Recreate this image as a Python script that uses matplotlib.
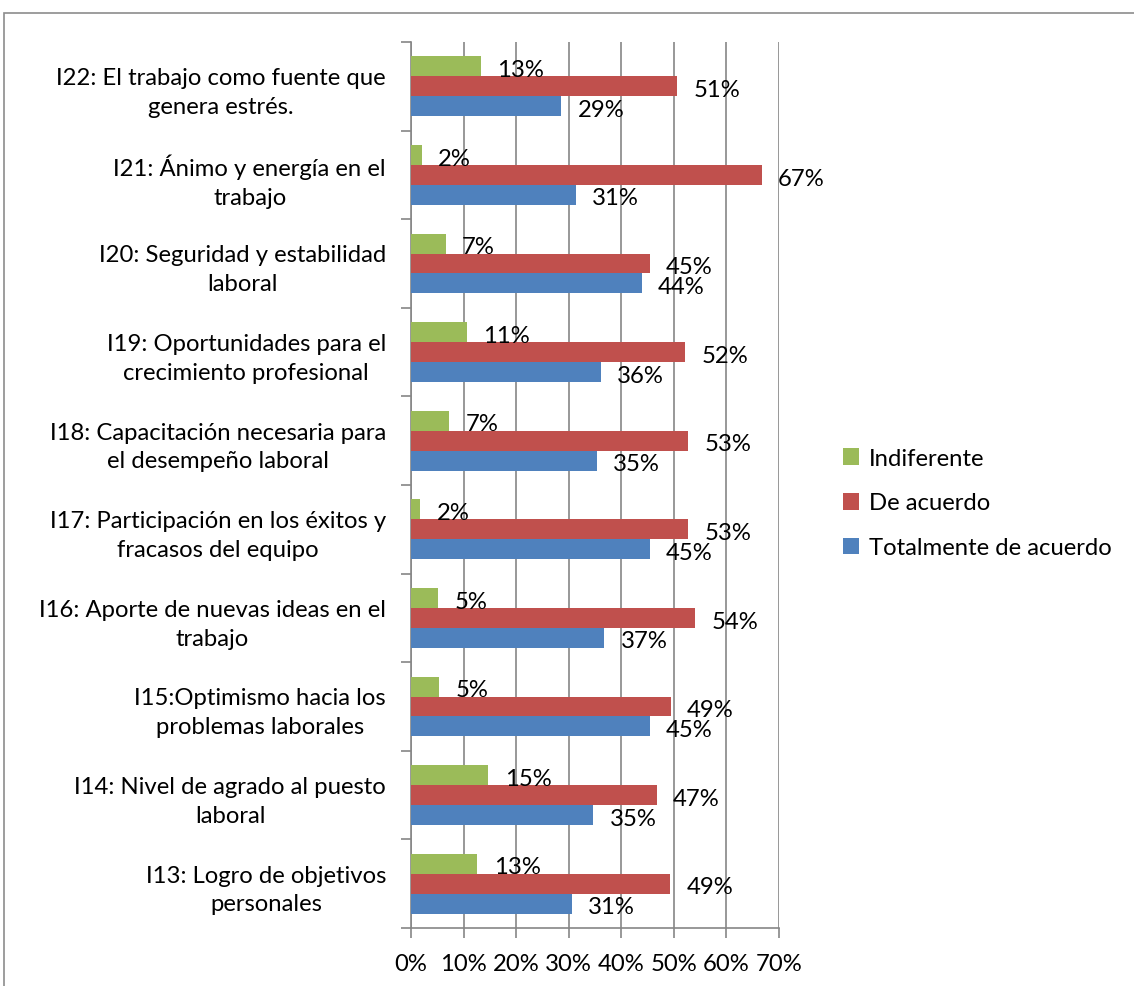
import matplotlib
matplotlib.use("Agg")
import matplotlib.pyplot as plt
from matplotlib.patches import Rectangle
from matplotlib.transforms import ScaledTranslation
import numpy as np

categories = [
    "I13: Logro de objetivos\npersonales",
    "I14: Nivel de agrado al puesto\nlaboral",
    "I15:Optimismo hacia los\nproblemas laborales",
    "I16: Aporte de nuevas ideas en el\ntrabajo",
    "I17: Participación en los éxitos y\nfracasos del equipo",
    "I18: Capacitación necesaria para\nel desempeño laboral",
    "I19: Oportunidades para el\ncrecimiento profesional",
    "I20: Seguridad y estabilidad\nlaboral",
    "I21: Ánimo y energía en el\ntrabajo",
    "I22: El trabajo como fuente que\ngenera estrés.",
]
totalmente = [30.6, 34.7, 45.4, 36.8, 45.4, 35.3, 36.1, 43.9, 31.3, 28.6]
de_acuerdo = [49.3, 46.7, 49.4, 54.0, 52.7, 52.7, 52.1, 45.4, 66.7, 50.6]
indiferente = [12.6, 14.7, 5.4, 5.2, 1.8, 7.3, 10.6, 6.6, 2.0, 13.3]
series_names = ["Indiferente", "De acuerdo", "Totalmente de acuerdo"]
colors = ["#9BBB59", "#C0504D", "#4F81BD"]
xticks = [0, 10, 20, 30, 40, 50, 60, 70]

plt.rcParams['font.family'] = ['Lato', 'DejaVu Sans']
FS = 17.2

fig = plt.figure(figsize=(11.34, 9.87), dpi=100)
fig.patches.append(Rectangle((4/1134, -0.1), 1.2, 1 - 14/987 + 0.1,
                             transform=fig.transFigure, fill=False,
                             edgecolor="#8c8c8c", linewidth=1.2))
ax = fig.add_axes([411/1134, 1 - 929/987, (779-411)/1134, (929-43)/987])

y = np.arange(len(categories))
h = 0.225
series = [indiferente, de_acuerdo, totalmente]
offsets = [h, 0, -h]
handles = []
for vals, off, c, name in zip(series, offsets, colors, series_names):
    b = ax.barh(y + off, vals, height=h, color=c, label=name, zorder=3)
    handles.append(b)
    for yi, v in zip(y, vals):
        ax.text(v + 3.1, yi + off - 0.035, f"{int(v + 0.5):d}%", va="center",
                ha="left", fontsize=FS, color="black", zorder=4)

ax.set_xlim(0, 70)
ax.set_ylim(-0.5, len(categories) - 0.5)
ax.set_xticks(xticks)
ax.set_xticklabels([f"{t}%" for t in xticks], fontsize=FS)
ax.set_yticks(y)
ax.set_yticklabels(categories, fontsize=FS, ha="right", multialignment="center",
                   linespacing=1.45)
shift = ScaledTranslation(0, 4/100, fig.dpi_scale_trans)
for lab in ax.get_yticklabels():
    lab.set_transform(lab.get_transform() + shift)
ax.tick_params(axis="y", which="major", length=0, pad=18)
ax.set_yticks(np.arange(-0.5, len(categories), 1), minor=True)
ax.tick_params(axis="y", which="minor", length=7, color="#868686", width=1.2)
ax.tick_params(axis="x", length=7, color="#868686", width=1.2, pad=11)
ax.grid(axis="x", color="#868686", linewidth=1.2, zorder=0)
for s in ["top", "right"]:
    ax.spines[s].set_visible(False)
for s in ["left", "bottom"]:
    ax.spines[s].set_color("#868686")
    ax.spines[s].set_linewidth(1.2)

leg = fig.legend(handles=handles, labels=series_names, loc="center left",
                 bbox_to_anchor=(821/1134, 1 - 504/987), frameon=False,
                 fontsize=FS, handlelength=0.7, handleheight=0.7,
                 handletextpad=0.4, labelspacing=1.0)

fig.savefig("out.png", dpi=100)
